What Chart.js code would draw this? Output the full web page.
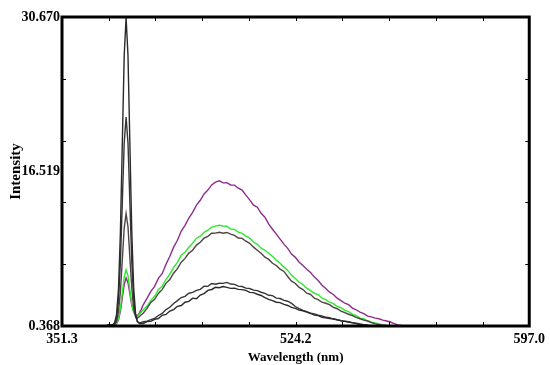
<!DOCTYPE html>
<html>
<head>
<meta charset="utf-8">
<script src="https://cdn.jsdelivr.net/npm/chart.js@4/dist/chart.umd.min.js"></script>
<style>
  html, body { margin: 0; padding: 0; background: #fff; }
  #wrap { width: 550px; height: 365px; position: relative; }
</style>
</head>
<body>
<div id="wrap"><canvas id="spectraChart"></canvas></div>
<script>
// wavelength grid (nm)
const wavelength = [375,376,377,378,379,380,381,382,383,384,385,386,387,388,389,390,391,392,393,
  394,396,398,400,402,404,406,408,410,412,414,416,418,420,422,424,426,428,430,432,434,436,438,440,
  442,444,446,448,450,452,454,456,458,460,462,464,466,468,470,472,474,476,478,480,482,484,486,488,
  490,492,494,496,498,500,502,504,506,508,510,512,514,516,518,520,522,524,526,528,530,532,534];

// intensity of each measured spectrum
const spectrumA = [0.45,0.45,0.46,0.49,0.69,1.51,3.98,9.48,18.12,26.84,30.62,26.89,18.17,9.53,4.03,1.58,0.79,0.60,0.62,
  0.62,0.80,0.82,1.02,1.10,1.42,1.50,1.83,1.98,2.30,2.38,2.70,2.78,3.10,3.05,3.40,3.55,3.86,3.95,4.16,4.12,4.24,4.15,4.06,
  4.08,3.96,3.94,3.86,3.66,3.64,3.48,3.36,3.16,2.98,2.86,2.70,2.66,2.48,2.38,2.20,2.10,1.92,1.86,1.72,1.60,1.44,1.38,1.22,
  1.18,1.10,1.08,0.98,0.88,0.82,0.76,0.68,0.60,0.52,0.46,0.42,0.40,0.39,0.40,0.39,0.38,0.39,0.38,0.38,0.38,0.38,0.38];
const spectrumB = [0.45,0.45,0.45,0.48,0.61,1.16,2.84,6.55,12.38,18.28,20.85,18.33,12.43,6.62,2.94,1.29,0.78,0.70,0.72,
  0.78,0.84,1.00,1.12,1.40,1.60,1.98,2.20,2.58,2.86,3.16,3.28,3.58,3.66,3.86,3.96,4.26,4.25,4.54,4.46,4.56,4.55,4.64,4.48,
  4.45,4.28,4.24,4.08,4.04,3.88,3.84,3.68,3.56,3.38,3.35,3.10,3.06,2.88,2.80,2.58,2.28,2.08,1.90,1.78,1.62,1.56,1.42,1.36,
  1.22,1.18,1.04,0.98,0.90,0.84,0.78,0.70,0.64,0.58,0.50,0.45,0.40,0.39,0.39,0.38,0.39,0.38,0.38,0.38,0.38,0.38,0.38];
const spectrumC = [0.45,0.45,0.45,0.47,0.54,0.82,1.75,3.70,6.81,9.95,11.39,10.10,7.06,4.05,2.05,1.30,1.15,1.30,1.48,
  1.62,2.10,2.68,2.98,3.56,3.96,4.55,4.92,5.54,6.00,6.62,7.00,7.52,7.80,8.30,8.58,8.98,9.16,9.46,9.48,9.56,9.47,9.54,9.38,
  9.26,9.00,8.96,8.68,8.48,8.10,7.80,7.50,7.12,6.90,6.52,6.30,5.94,5.72,5.22,4.76,4.54,4.16,3.94,3.58,3.46,3.10,2.96,2.70,
  2.60,2.46,2.20,2.06,1.82,1.68,1.52,1.38,1.22,1.08,0.94,0.86,0.70,0.58,0.50,0.44,0.40,0.39,0.38,0.38,0.38,0.38,0.38];
const spectrumD = [0.45,0.45,0.45,0.46,0.50,0.63,1.10,2.07,3.58,5.16,5.88,5.31,3.88,2.52,1.70,1.38,1.33,1.55,1.75,
  1.96,2.30,2.88,3.28,3.95,4.26,4.94,5.44,6.12,6.60,7.30,7.60,8.10,8.48,8.98,9.18,9.56,9.76,10.06,10.16,10.25,10.18,10.15,9.88,
  9.85,9.58,9.46,9.18,8.98,8.60,8.38,8.00,7.80,7.50,7.20,6.82,6.52,6.14,5.82,5.36,5.02,4.66,4.44,4.08,3.84,3.58,3.45,3.10,
  2.96,2.70,2.56,2.30,2.16,1.90,1.78,1.52,1.38,1.14,1.08,0.88,0.74,0.66,0.58,0.48,0.42,0.40,0.39,0.38,0.38,0.38,0.38];
const spectrumE = [0.45,0.45,0.45,0.46,0.49,0.60,0.99,1.81,3.11,4.42,5.09,4.62,3.51,2.41,1.75,1.45,1.38,1.65,2.00,
  2.45,3.08,3.76,4.26,5.04,5.52,6.42,7.20,8.10,8.78,9.68,10.24,10.96,11.52,12.22,12.70,13.32,13.70,14.20,14.48,14.60,14.40,14.42,14.20,
  14.18,13.88,13.70,13.20,12.74,12.22,12.02,11.42,11.04,10.36,9.86,9.38,8.88,8.40,7.98,7.42,7.10,6.62,6.30,5.94,5.62,5.16,4.82,4.36,
  4.04,3.68,3.46,3.10,2.86,2.60,2.46,2.12,1.96,1.72,1.58,1.34,1.26,1.14,1.08,0.95,0.86,0.76,0.60,0.48,0.42,0.38,0.38];

// axis labels as printed on the original
const xTickValues = [351.3, 474.15, 597.0];
const xTickLabels = ['351.3', '524.2', '597.0'];
const yTickValues = [0.368, 15.519, 30.670];
const yTickLabels = ['0.368', '16.519', '30.670'];

function toPoints(values) {
    return wavelength.map((w, i) => ({ x: w, y: values[i] }));
}

const serif = "'Liberation Serif', 'Times New Roman', 'DejaVu Serif', serif";

// thick frame plus the small inward tick marks
const framePlugin = {
    id: 'frame',
    afterDatasetsDraw(chart) {
        const { ctx, chartArea: a, scales } = chart;
        const xs = scales.x, ys = scales.y;
        ctx.save();
        ctx.strokeStyle = '#000';
        ctx.lineWidth = 1;
        for (let i = 1; i < 10; i++) {
            const px = Math.round(xs.getPixelForValue(xs.min + i * (xs.max - xs.min) / 10)) + 0.5;
            ctx.beginPath();
            ctx.moveTo(px, a.bottom); ctx.lineTo(px, a.bottom - 4);
            ctx.moveTo(px, a.top); ctx.lineTo(px, a.top + 4);
            ctx.stroke();
        }
        for (let i = 1; i < 5; i++) {
            const py = Math.round(ys.getPixelForValue(ys.min + i * (ys.max - ys.min) / 5)) + 0.5;
            ctx.beginPath();
            ctx.moveTo(a.left, py); ctx.lineTo(a.left + 4, py);
            ctx.moveTo(a.right, py); ctx.lineTo(a.right - 4, py);
            ctx.stroke();
        }
        ctx.lineWidth = 3;
        ctx.strokeRect(a.left, a.top, a.right - a.left, a.bottom - a.top);
        ctx.restore();
    }
};

const ctx = document.getElementById('spectraChart').getContext('2d');
new Chart(ctx, {
    type: 'line',
    data: {
        datasets: [
            { label: 'A', data: toPoints(spectrumA), borderColor: '#2a2a2a' },
            { label: 'B', data: toPoints(spectrumB), borderColor: '#363636' },
            { label: 'C', data: toPoints(spectrumC), borderColor: '#4f4242' },
            { label: 'D', data: toPoints(spectrumD), borderColor: '#2de82d' },
            { label: 'E', data: toPoints(spectrumE), borderColor: '#8e2c8e' }
        ]
    },
    options: {
        responsive: true,
        maintainAspectRatio: false,
        animation: false,
        datasets: {
            line: { borderWidth: 1.4, pointRadius: 0, tension: 0, fill: false }
        },
        layout: { padding: { top: 17, right: 17, left: 0, bottom: 0 } },
        plugins: {
            legend: { display: false },
            tooltip: { enabled: false }
        },
        scales: {
            x: {
                type: 'linear',
                min: 351.3,
                max: 597.0,
                afterBuildTicks: s => { s.ticks = xTickValues.map(v => ({ value: v })); },
                afterFit: s => { s.height = 39; },
                grid: { display: false, drawTicks: false },
                border: { display: false },
                ticks: {
                    autoSkip: false,
                    maxRotation: 0,
                    padding: 5,
                    color: '#000',
                    font: { family: serif, size: 14, weight: 'bold' },
                    callback: (v, i) => xTickLabels[i]
                },
                title: {
                    display: true,
                    text: 'Wavelength (nm)',
                    color: '#000',
                    font: { family: serif, size: 13, weight: 'bold' },
                    padding: { top: 0, bottom: 0 }
                }
            },
            y: {
                type: 'linear',
                min: 0.368,
                max: 30.670,
                afterBuildTicks: s => { s.ticks = yTickValues.map(v => ({ value: v })); },
                afterFit: s => { s.width = 62; },
                grid: { display: false, drawTicks: false },
                border: { display: false },
                ticks: {
                    autoSkip: false,
                    padding: 2,
                    color: '#000',
                    font: { family: serif, size: 14, weight: 'bold' },
                    callback: (v, i) => yTickLabels[i]
                },
                title: {
                    display: true,
                    text: 'Intensity',
                    color: '#000',
                    font: { family: serif, size: 15, weight: 'bold' },
                    padding: { top: 7, bottom: 0 }
                }
            }
        }
    },
    plugins: [framePlugin]
});
</script>
</body>
</html>
